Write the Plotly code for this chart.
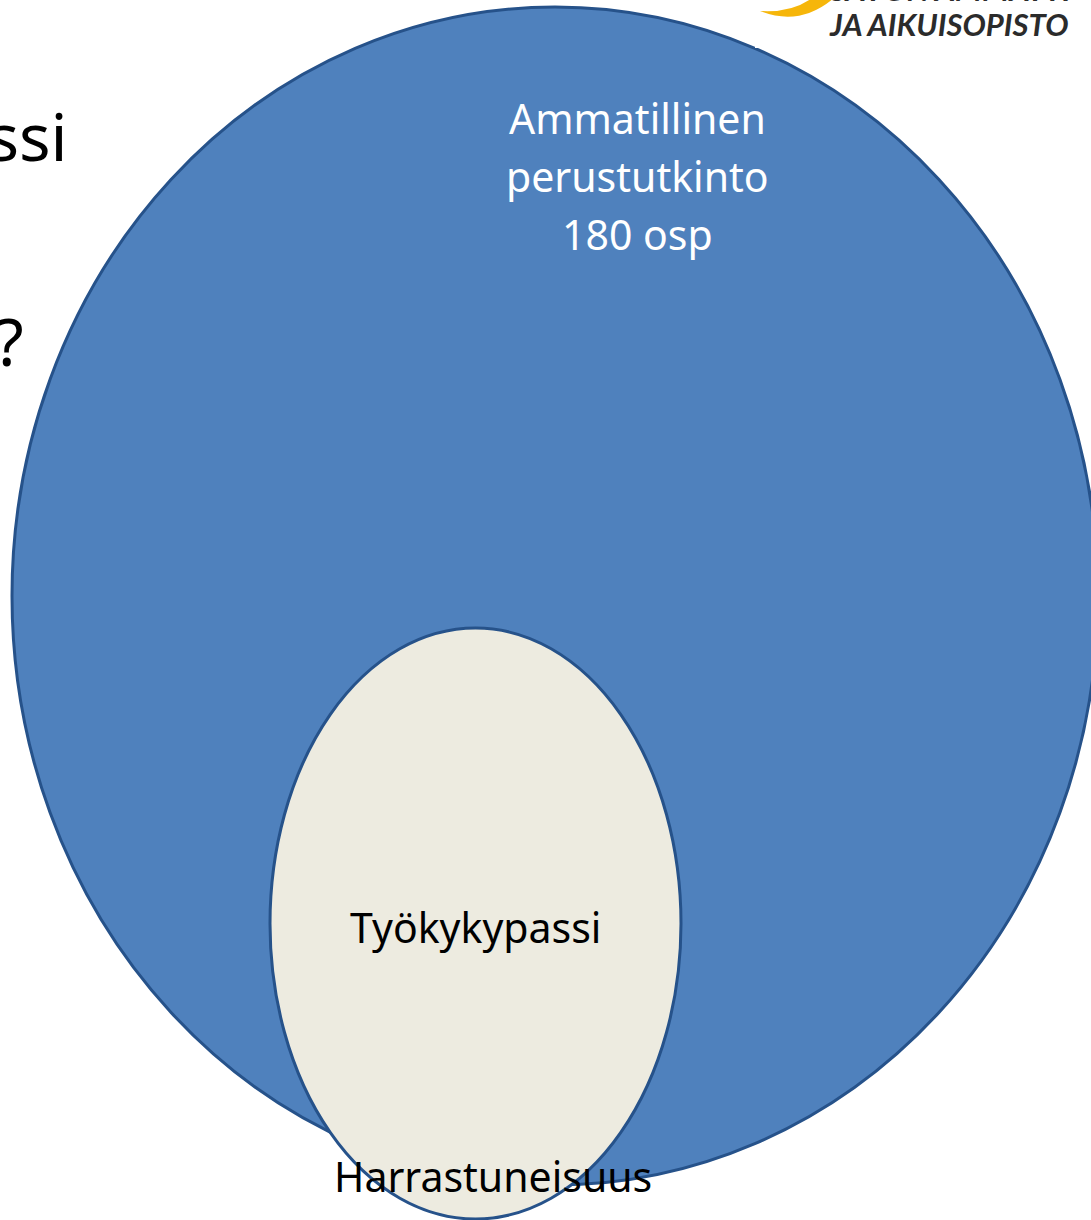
import plotly.graph_objects as go

# ---- content ----
outer_label = ["Ammatillinen", "perustutkinto", "180 osp"]
inner_label = ["Työkykypassi"]
bottom_label = ["Harrastuneisuus"]
title_fragments = ["Työkykypassi", "?"]
logo_lines = ["SAVON AMMATTI-", "JA AIKUISOPISTO"]

W, H = 1091, 1220
BLUE = "#4F81BD"
EDGE = "#26528A"
TAN = "#EDEBE0"

fig = go.Figure()
fig.add_trace(go.Scatter(x=[0, W], y=[0, H], mode="markers",
                         marker=dict(opacity=0), hoverinfo="skip", showlegend=False))

shapes = []
# big ellipse
shapes.append(dict(type="circle", xref="x", yref="y", x0=12, x1=1098, y0=7, y1=1185,
                   fillcolor=BLUE, line=dict(color=EDGE, width=3), layer="above"))
# white logo background
shapes.append(dict(type="rect", xref="x", yref="y", x0=755, x1=W + 20, y0=-5, y1=48,
                   fillcolor="white", line=dict(width=0), layer="above"))
# inner ellipse
shapes.append(dict(type="circle", xref="x", yref="y", x0=270, x1=681, y0=628, y1=1219,
                   fillcolor=TAN, line=dict(color=EDGE, width=3), layer="above"))
# logo swoosh
shapes.append(dict(type="path", xref="x", yref="y",
                   path="M 760 11 Q 800 27 834 -2 L 812 -2 Q 792 13 760 11 Z",
                   fillcolor="#F6B60A", line=dict(width=0), layer="above"))
fig.update_layout(shapes=shapes)

FONT = "Noto Sans"
ann = []
for i, t in enumerate(outer_label):
    ann.append(dict(x=637, y=118 + 58 * i, text=t, showarrow=False, xref="x", yref="y",
                    xanchor="center", yanchor="middle",
                    font=dict(family=FONT, size=41, color="white")))
ann.append(dict(x=475, y=927, text=inner_label[0], showarrow=False, xref="x", yref="y",
                xanchor="center", yanchor="middle",
                font=dict(family=FONT, size=41, color="black")))
ann.append(dict(x=493, y=1176, text=bottom_label[0], showarrow=False, xref="x", yref="y",
                xanchor="center", yanchor="middle",
                font=dict(family=FONT, size=41, color="black")))
# cut-off slide title fragments at left
ann.append(dict(x=70, y=135, text=title_fragments[0], showarrow=False, xref="x", yref="y",
                xanchor="right", yanchor="middle",
                font=dict(family=FONT, size=66, color="black")))
ann.append(dict(x=26, y=340, text=title_fragments[1], showarrow=False, xref="x", yref="y",
                xanchor="right", yanchor="middle",
                font=dict(family=FONT, size=66, color="black")))
# logo text (top line mostly above the visible area)
ann.append(dict(x=827 / W, y=1 + 11 / H, text="<b><i>" + logo_lines[0] + "</i></b>", showarrow=False,
                xref="paper", yref="paper", xanchor="left", yanchor="middle",
                font=dict(family="Lato", size=31, color="#2B2B2B")))
ann.append(dict(x=827, y=24, text="<b><i>" + logo_lines[1] + "</i></b>", showarrow=False,
                xref="x", yref="y", xanchor="left", yanchor="middle",
                font=dict(family="Lato", size=31, color="#2B2B2B")))
fig.update_layout(annotations=ann)

fig.update_layout(
    width=W, height=H, margin=dict(l=0, r=0, t=0, b=0),
    paper_bgcolor="white", plot_bgcolor="white",
    xaxis=dict(range=[0, W], visible=False, fixedrange=True),
    yaxis=dict(range=[H, 0], visible=False, fixedrange=True),
    showlegend=False,
)
fig.write_html("out.html", config={"displayModeBar": False},
               post_script="document.body.style.margin='0px';document.body.style.overflow='hidden';")
